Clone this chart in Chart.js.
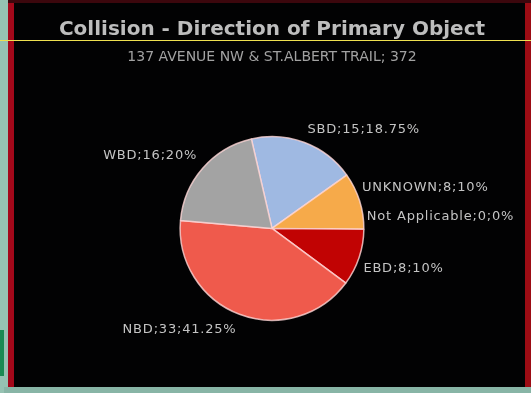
<!DOCTYPE html>
<html lang="en">
<head>
<meta charset="UTF-8">
<title>Collision - Direction of Primary Object</title>
<script src="https://cdn.jsdelivr.net/npm/chart.js"></script>
<style>
    html, body { margin: 0; padding: 0; background: #000; }
    .page { position: relative; width: 531px; height: 393px; overflow: hidden; background: #020203; }
    .fundo-esq { position: absolute; left: 0; top: 0; width: 8px; height: 393px; background: #96c2b2; }
    .fundo-esq-verde { position: absolute; left: 0; top: 330px; width: 4px; height: 46px; background: #1b8a52; }
    .borda-esq { position: absolute; left: 8px; top: 0; width: 6px; height: 387px; background: #a3081a; }
    .borda-dir { position: absolute; right: 0; top: 0; width: 6px; height: 387px; background: #9c0c14; }
    .borda-topo { position: absolute; left: 8px; top: 0; width: 523px; height: 3px; background: #3c070d; }
    .fundo-baixo { position: absolute; left: 4px; top: 387px; width: 527px; height: 6px; background: #88b5a6; }
    .linha { position: absolute; left: 0; top: 40px; width: 531px; height: 1px; background: #efe150; z-index: 3; }
    canvas { position: absolute; left: 0; top: 0; z-index: 2; }
</style>
</head>
<body>
<div class="page">
    <div class="fundo-esq"></div>
    <div class="fundo-esq-verde"></div>
    <div class="borda-esq"></div>
    <div class="borda-dir"></div>
    <div class="borda-topo"></div>
    <div class="fundo-baixo"></div>
    <div class="linha"></div>
    <canvas id="grafico" width="531" height="393"></canvas>
</div>

<script>
// dados
var direcoes = ['SBD', 'UNKNOWN', 'Not Applicable', 'EBD', 'NBD', 'WBD'];
var colisoes = [15, 8, 0, 8, 33, 16];
var cores = ['#9fb9e2', '#f6aa4a', '#f6aa4a', '#c10303', '#ef5a4c', '#a3a3a3'];

var titulo = 'Collision - Direction of Primary Object';
var subtitulo = '137 AVENUE NW & ST.ALBERT TRAIL; 372';

var total = colisoes.reduce(function (a, b) { return a + b; }, 0);

function porcentagem(v) {
    var p = (v / total * 100).toFixed(2);
    return p.replace(/\.?0+$/, '') + '%';
}

// ajuste fino de onde cada rótulo fica (estilo, nao dado)
var ajusteRotulo = [[-2, 0], [-11, -9], [-11, -13], [-9, 7], [2, 2], [5, -3]];

var rotulosFatia = {
    id: 'rotulosFatia',
    afterDatasetsDraw: function (chart) {
        var ctx = chart.ctx;
        var meta = chart.getDatasetMeta(0);
        ctx.save();
        ctx.font = '13px "DejaVu Sans"';
        ctx.fillStyle = '#c4c4c4';
        ctx.textBaseline = 'middle';
        ctx.letterSpacing = '0.8px';
        for (var i = 0; i < meta.data.length; i++) {
            var arco = meta.data[i].getProps(['x', 'y', 'startAngle', 'endAngle', 'outerRadius'], true);
            var meio = (arco.startAngle + arco.endAngle) / 2;
            var r = arco.outerRadius + 14;
            var px = arco.x + Math.cos(meio) * r + ajusteRotulo[i][0];
            var py = arco.y + Math.sin(meio) * r + ajusteRotulo[i][1];
            ctx.textAlign = Math.cos(meio) >= 0 ? 'left' : 'right';
            var texto = direcoes[i] + ';' + colisoes[i] + ';' + porcentagem(colisoes[i]);
            ctx.fillText(texto, px, py);
        }
        ctx.restore();
    }
};

var config = {
    type: 'pie',
    data: {
        labels: direcoes,
        datasets: [{
            data: colisoes,
            backgroundColor: cores,
            borderColor: 'rgba(255, 215, 215, 0.8)',
            borderWidth: 1.5
        }]
    },
    options: {
        responsive: false,
        animation: false,
        rotation: -13,
        layout: { padding: { top: 0, bottom: 72, left: 16, right: 3 } },
        plugins: {
            legend: { display: false },
            tooltip: { enabled: false },
            title: {
                display: true,
                text: titulo,
                color: '#bdbdbd',
                font: { family: 'DejaVu Sans', size: 20, weight: 'bold' },
                padding: { top: 18, bottom: 2 }
            },
            subtitle: {
                display: true,
                text: subtitulo,
                color: '#a2a2a2',
                font: { family: 'DejaVu Sans', size: 14 },
                padding: { top: 5, bottom: 70 }
            }
        }
    },
    plugins: [rotulosFatia]
};

var meuGrafico = new Chart(document.getElementById('grafico'), config);
</script>
</body>
</html>
